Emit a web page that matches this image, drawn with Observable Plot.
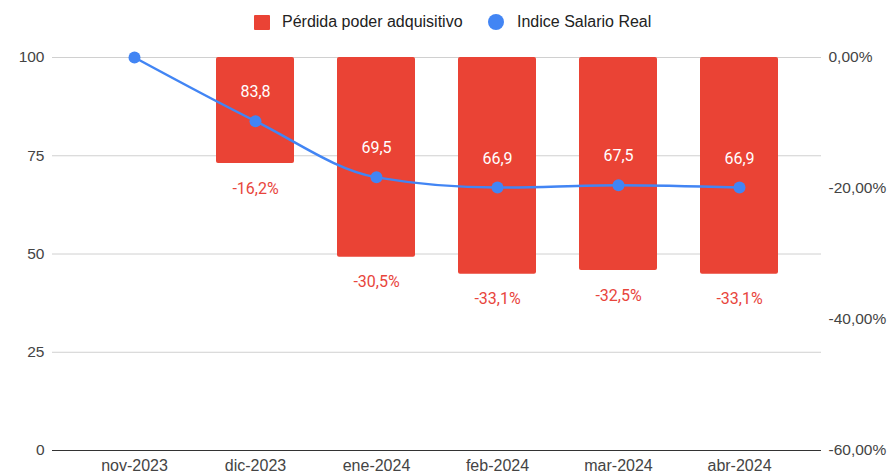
<!DOCTYPE html>
<html>
<head>
<meta charset="utf-8">
<script src="https://cdn.jsdelivr.net/npm/d3@7"></script>
<script src="https://cdn.jsdelivr.net/npm/@observablehq/plot@0.6"></script>
<style>
  html, body { margin: 0; padding: 0; background: #fff; }
  #legend { position: relative; width: 889px; height: 40px; font-family: "Liberation Sans", Arial, sans-serif; font-size: 16px; color: #222; }
  .sw { position: absolute; }
  .lt { position: absolute; top: 12px; line-height: 20px; }
  #chart svg { display: block; }
</style>
</head>
<body>
<div id="legend">
  <div class="sw" style="left:254px; top:15px; width:16px; height:15px; background:#EA4335; border-radius:1px;"></div>
  <div class="lt" style="left:282px;">Pérdida poder adquisitivo</div>
  <div class="sw" style="left:488px; top:14px; width:16px; height:16px; background:#4285F4; border-radius:50%;"></div>
  <div class="lt" style="left:517px;">Indice Salario Real</div>
</div>
<div id="chart"></div>
<script>
const months = ["nov-2023", "dic-2023", "ene-2024", "feb-2024", "mar-2024", "abr-2024"];
const salarioReal = [100, 83.8, 69.5, 66.9, 67.5, 66.9];
const perdida = [0, -16.2, -30.5, -33.1, -32.5, -33.1];
const leftTicks = [0, 25, 50, 75, 100];
const rightTicks = [0, -20, -40, -60];
const rightTickLabels = ["0,00%", "-20,00%", "-40,00%", "-60,00%"];

// right axis (0% .. -60%) mapped onto left scale (100 .. 0)
const toLeft = p => 100 + p * 100 / 60;
const fmt1 = v => v.toFixed(1).replace(".", ",");

const data = months.map((m, i) => ({ m, s: salarioReal[i], p: perdida[i] }));
const withBars = data.filter(d => d.p < 0);

const axisFont = "'Liberation Sans', Arial, sans-serif";
const labelFont = "Roboto, sans-serif";

const chart = Plot.plot({
  width: 889,
  height: 434,
  marginTop: 17,
  marginBottom: 24,
  marginLeft: 52,
  marginRight: 68,
  style: { fontFamily: axisFont, fontSize: "15.5px", color: "#444", background: "#fff" },
  x: { domain: months, padding: 0.355, label: null },
  y: { domain: [0, 100], label: null },
  marks: [
    Plot.gridY(leftTicks, { stroke: "#d0d0d0", strokeOpacity: 1 }),
    Plot.barY(withBars, { x: "m", y1: () => 100, y2: d => toLeft(d.p), fill: "#EA4335", rx: 2 }),
    Plot.ruleY([0], { stroke: "#333", strokeWidth: 1 }),
    Plot.line(data, { x: "m", y: "s", stroke: "#4285F4", strokeWidth: 2.5, curve: "monotone-x" }),
    Plot.dot(data, { x: "m", y: "s", r: 6, fill: "#4285F4" }),
    Plot.text(withBars, { x: "m", y: "s", text: d => fmt1(d.s), dy: -29, fill: "#fff", fontSize: 16, fontFamily: labelFont }),
    Plot.text(withBars, { x: "m", y: d => toLeft(d.p), text: d => fmt1(d.p) + "%", dy: 25, fill: "#E8453C", fontSize: 16, fontFamily: labelFont }),
    Plot.axisY(leftTicks, { anchor: "left", tickSize: 0, tickPadding: 8, label: null, fill: "#444", fontSize: 15.5 }),
    Plot.axisY(rightTicks.map(toLeft), { anchor: "right", tickSize: 0, tickPadding: 7, label: null, fill: "#444", fontSize: 15.5,
      tickFormat: d => rightTickLabels[rightTicks.map(toLeft).indexOf(d)] }),
    Plot.axisX({ anchor: "bottom", tickSize: 0, tickPadding: 9, label: null, fill: "#444", fontSize: 16 })
  ]
});
document.getElementById("chart").appendChild(chart);
</script>
</body>
</html>
